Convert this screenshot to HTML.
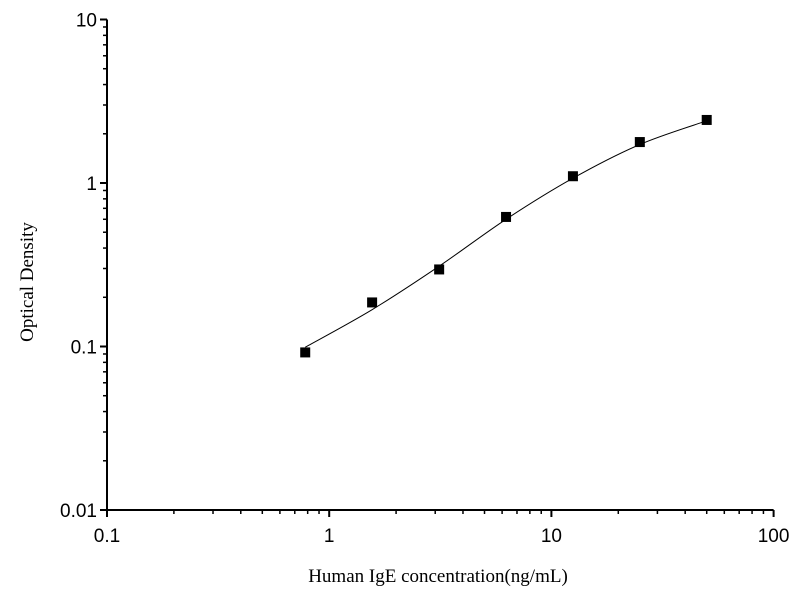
<!DOCTYPE html>
<html><head><meta charset="utf-8"><style>
html,body{margin:0;padding:0;background:#fff;}
svg{display:block;font-family:"Liberation Sans",Arial,sans-serif;}
</style></head><body>
<svg id="chart" width="798" height="594" viewBox="0 0 798 594" xmlns="http://www.w3.org/2000/svg">
<g id="axes"></g>
<g id="plot"></g>
<text x="438" y="582" text-anchor="middle" font-family="Liberation Serif,serif" font-size="19">Human IgE concentration(ng/mL)</text>
<text transform="translate(33,282) rotate(-90)" text-anchor="middle" font-family="Liberation Serif,serif" font-size="19">Optical Density</text>
</svg>
<script>
const concentrations = [0.78, 1.56, 3.125, 6.25, 12.5, 25, 50];
const odValues = [0.092, 0.186, 0.296, 0.62, 1.1, 1.78, 2.43];
const curveX = [0.78, 1.56, 3.125, 6.25, 12.5, 25, 50];
const curveY = [0.099, 0.168, 0.31, 0.6, 1.07, 1.72, 2.4];
const xTickLabels = ["0.1", "1", "10", "100"];
const yTickLabels = ["0.01", "0.1", "1", "10"];

const X0=107, XD=222.2, Y0=510, YD=163.5;
const xs = v => X0 + (Math.log10(v)+1)*XD;
const ys = v => Y0 - (Math.log10(v)+2)*YD;
const NS="http://www.w3.org/2000/svg";
const axes=document.getElementById('axes'), plot=document.getElementById('plot');
function mk(tag,attrs,parent){const e=document.createElementNS(NS,tag);for(const k in attrs)e.setAttribute(k,attrs[k]);parent.appendChild(e);return e;}

let ax=mk('line',{x1:X0,y1:Y0,x2:xs(100),y2:Y0,stroke:'#000','stroke-width':2},axes);


let ay=mk('line',{x1:X0,y1:Y0+1,x2:X0,y2:ys(10),stroke:'#000','stroke-width':2},axes);



xTickLabels.forEach((lab,i)=>{
  const v=parseFloat(lab), x=xs(v);
  let t=mk('line',{x1:x,y1:Y0,x2:x,y2:Y0+7,stroke:'#000','stroke-width':2},axes);
  
  
  let tx=mk('text',{x:x,y:Y0+32,'text-anchor':'middle','font-size':19},axes);
  tx.textContent=lab;
  
  
  if(i<xTickLabels.length-1){for(let m=2;m<=9;m++){const xm=xs(v*m);
    let mt=mk('line',{x1:xm,y1:Y0,x2:xm,y2:Y0+4,stroke:'#000','stroke-width':1.5},axes);
    
    }}
});
yTickLabels.forEach((lab,i)=>{
  const v=parseFloat(lab), y=ys(v);
  let t=mk('line',{x1:X0,y1:y,x2:X0-7,y2:y,stroke:'#000','stroke-width':2},axes);
  
  
  let tx=mk('text',{x:X0-10,y:y+7,'text-anchor':'end','font-size':19},axes);
  tx.textContent=lab;
  
  
  if(i<yTickLabels.length-1){for(let m=2;m<=9;m++){const ym=ys(v*m);
    let mt=mk('line',{x1:X0,y1:ym,x2:X0-4,y2:ym,stroke:'#000','stroke-width':1.5},axes);
    
    }}
});

const P=curveX.map((c,i)=>[xs(c),ys(curveY[i])]);
let d=`M${P[0][0]},${P[0][1]}`;
for(let i=0;i<P.length-1;i++){const p0=P[Math.max(0,i-1)],p1=P[i],p2=P[i+1],p3=P[Math.min(P.length-1,i+2)];
  d+=` C${p1[0]+(p2[0]-p0[0])/6},${p1[1]+(p2[1]-p0[1])/6} ${p2[0]-(p3[0]-p1[0])/6},${p2[1]-(p3[1]-p1[1])/6} ${p2[0]},${p2[1]}`;}
let cv=mk('path',{d:d,fill:'none',stroke:'#000','stroke-width':1},plot);



concentrations.forEach((c,i)=>{
  let r=mk('rect',{x:xs(c)-5,y:ys(odValues[i])-5,width:10,height:10,fill:'#000'},plot);
  
  
});
</script>
</body></html>
